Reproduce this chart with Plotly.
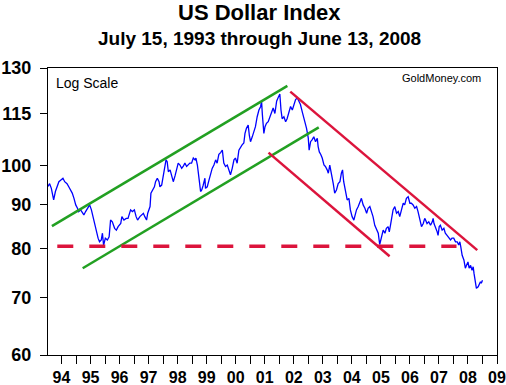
import math
import plotly.graph_objects as go

# ---- data (decimal year, index value) ----
dxy_years = [
    1993.535, 1993.56, 1993.59, 1993.65, 1993.73, 1993.79, 1993.85, 1993.91, 1993.97, 1994.05,
    1994.11, 1994.19, 1994.25, 1994.32, 1994.37, 1994.43, 1994.49, 1994.55, 1994.59, 1994.66,
    1994.72, 1994.77, 1994.83, 1994.91, 1994.97, 1995.03, 1995.08, 1995.14, 1995.20, 1995.26,
    1995.31, 1995.37, 1995.41, 1995.45, 1995.51, 1995.58, 1995.64, 1995.69, 1995.75, 1995.83,
    1995.89, 1995.95, 1996.04, 1996.08, 1996.15, 1996.23, 1996.29,
    1996.38, 1996.44, 1996.51, 1996.57, 1996.62, 1996.70, 1996.76, 1996.82, 1996.87, 1996.93,
    1996.97, 1997.01, 1997.05, 1997.08, 1997.14, 1997.20, 1997.24, 1997.30, 1997.36, 1997.39,
    1997.45, 1997.51, 1997.56, 1997.60, 1997.64, 1997.68, 1997.74, 1997.79, 1997.85, 1997.91,
    1997.97, 1998.02, 1998.08, 1998.14, 1998.19, 1998.25, 1998.31, 1998.37, 1998.42, 1998.48,
    1998.54, 1998.60, 1998.63, 1998.68, 1998.71, 1998.75, 1998.79, 1998.83, 1998.88, 1998.94,
    1998.96, 1999.02, 1999.08, 1999.13, 1999.19, 1999.25, 1999.31, 1999.36, 1999.42, 1999.48,
    1999.54, 1999.59, 1999.65, 1999.71, 1999.77, 1999.82, 1999.88, 1999.94, 1999.99, 2000.05,
    2000.11, 2000.17, 2000.22, 2000.28, 2000.32, 2000.37, 2000.43, 2000.47, 2000.51, 2000.57,
    2000.63, 2000.68, 2000.74, 2000.80, 2000.86, 2000.89, 2000.92, 2000.97, 2001.01, 2001.06,
    2001.12, 2001.18, 2001.23, 2001.29, 2001.35, 2001.41, 2001.46, 2001.52,
    2001.56, 2001.60, 2001.66, 2001.72, 2001.77, 2001.83, 2001.89, 2001.95, 2002.00, 2002.06,
    2002.12, 2002.18, 2002.23, 2002.29, 2002.35, 2002.38, 2002.44, 2002.50, 2002.53, 2002.58,
    2002.63, 2002.69, 2002.75, 2002.81, 2002.84, 2002.88, 2002.93, 2002.98, 2003.04, 2003.09,
    2003.15, 2003.19, 2003.24, 2003.30, 2003.36, 2003.41, 2003.47, 2003.53, 2003.59, 2003.64,
    2003.68, 2003.72, 2003.78, 2003.84, 2003.90, 2003.95, 2004.01, 2004.07, 2004.10,
    2004.16, 2004.22, 2004.28, 2004.33, 2004.39, 2004.45, 2004.51, 2004.56, 2004.62, 2004.68,
    2004.73, 2004.79, 2004.85, 2004.91, 2004.96, 2005.02, 2005.08, 2005.14, 2005.19, 2005.25,
    2005.29, 2005.33, 2005.39, 2005.42, 2005.48, 2005.54, 2005.60, 2005.65, 2005.71, 2005.77,
    2005.82, 2005.88, 2005.94, 2006.00, 2006.05, 2006.11, 2006.17, 2006.23, 2006.28, 2006.34,
    2006.40, 2006.46, 2006.51,
    2006.54, 2006.59, 2006.65, 2006.71, 2006.77, 2006.80, 2006.83, 2006.88, 2006.94, 2006.97,
    2007.01, 2007.05, 2007.11, 2007.17, 2007.22, 2007.28, 2007.34, 2007.40, 2007.45, 2007.51,
    2007.57, 2007.63, 2007.68, 2007.72, 2007.75, 2007.80, 2007.86, 2007.91, 2007.95, 2008.00,
    2008.04, 2008.09, 2008.14, 2008.18, 2008.21, 2008.26, 2008.29, 2008.35, 2008.38, 2008.43,
    2008.46, 2008.50,
]
dxy_values = [
    94.5, 94.8, 95.2, 94.0, 91.1, 93.2, 94.4, 95.7, 96.1, 96.6,
    95.7, 95.2, 94.4, 93.6, 92.8, 91.5, 89.9, 89.1, 88.3, 88.7,
    87.9, 87.5, 88.3, 89.1, 89.9, 88.7, 87.1, 85.9, 84.0, 82.2,
    81.4, 81.8, 83.3, 80.6, 82.2, 81.8, 82.5, 86.3, 85.9, 84.4,
    84.0, 84.8, 85.5, 87.1, 86.3, 86.7, 86.7,
    88.7, 88.3, 88.7, 87.1, 86.3, 87.1, 87.5, 87.9, 87.1, 86.3,
    87.9, 88.7, 89.5, 92.8, 93.6, 94.4, 95.7, 96.6, 95.7, 94.4,
    94.8, 97.2, 99.7, 101.5, 101.0, 98.3, 98.8, 97.2, 95.7, 97.2,
    99.2, 100.6, 100.1, 99.2, 99.7, 100.6, 99.7, 100.1, 100.6, 100.6,
    102.0, 101.5, 102.0, 100.1, 97.2, 95.7, 93.2, 93.6, 94.8, 96.6,
    94.0, 94.4, 96.1, 97.9, 99.2, 100.1, 101.5, 100.6, 103.0, 103.5,
    104.2, 100.6, 99.7, 100.1, 98.8, 97.5, 99.2, 101.5, 102.0, 100.6,
    104.2, 105.2, 105.7, 106.2, 109.0, 110.5, 111.5, 108.4, 106.6, 108.0,
    110.0, 111.0, 114.0, 116.1, 117.2, 118.9, 114.5, 109.0, 111.0, 112.0,
    112.5, 114.0, 115.6, 116.7, 115.0, 118.9, 120.0, 121.2,
    116.1, 113.4, 114.0, 112.5, 113.4, 115.6, 117.2, 116.1, 117.8, 119.3,
    120.0, 118.9, 117.8, 115.6, 114.0, 112.5, 110.5, 107.6, 104.2, 106.6,
    107.1, 108.0, 106.6, 107.6, 105.2, 103.7, 103.0, 102.0, 100.1, 99.7,
    98.8, 97.9, 100.1, 97.9, 95.2, 92.8, 93.6, 95.2, 95.7, 97.9,
    98.8, 95.7, 93.2, 91.1, 91.5, 88.7, 87.1, 86.3, 87.1,
    88.7, 89.5, 90.7, 91.5, 89.9, 89.1, 87.9, 89.1, 89.5, 88.3,
    87.1, 85.1, 84.0, 83.3, 80.8, 82.8, 84.0, 83.3, 84.4, 84.8,
    83.6, 85.1, 87.5, 88.7, 89.5, 87.9, 88.3, 87.1, 88.7, 90.3,
    89.9, 91.5, 91.9, 90.3, 90.3, 89.9, 89.1, 89.5, 88.3, 86.7,
    84.8, 85.5, 86.7,
    86.3, 85.5, 85.9, 85.1, 85.9, 86.7, 85.5, 84.8, 83.6, 82.8,
    84.8, 85.1, 84.0, 84.4, 83.3, 82.8, 82.2, 81.8, 82.2, 82.2,
    81.4, 81.4, 80.7, 81.4, 80.4, 78.5, 77.5, 75.8, 76.4, 77.1,
    75.8, 76.4, 75.4, 76.1, 74.7, 73.1, 71.8, 72.1, 72.4, 73.1,
    72.8, 73.4,
]

# trend channel end points (decimal year, index value)
green_upper_x = [1993.67, 2001.78]
green_upper_y = [84.9, 123.9]
green_lower_x = [1994.73, 2002.86]
green_lower_y = [75.8, 110.8]
red_upper_x = [2001.88, 2008.32]
red_upper_y = [122.0, 79.6]
red_lower_x = [2001.13, 2005.30]
red_lower_y = [103.5, 78.3]
support_x = [1993.855, 2007.605]
support_y = [80.4, 80.4]

# axis ticks
y_min, y_max = 60, 130
y_tick_values = [60, 70, 80, 90, 100, 115, 130]
y_tick_labels = ["60", "70", "80", "90", "100", "115", "130"]
x_start, x_end = 1993.535, 2009.0
x_label_years = list(range(1994, 2010))
x_tick_labels = ["94", "95", "96", "97", "98", "99", "00", "01",
                 "02", "03", "04", "05", "06", "07", "08", "09"]

x_tickvals, x_ticktext = [], []
for yr, lab in zip(x_label_years, x_tick_labels):
    x_tickvals.append(yr)
    x_ticktext.append(lab)
    if yr < x_label_years[-1]:
        x_tickvals.append(yr + 0.5)
        x_ticktext.append("")

GREEN = "#22A022"
RED = "#DC143C"
FONT = "Liberation Sans, Arial, sans-serif"

fig = go.Figure()
fig.add_trace(go.Scatter(x=dxy_years, y=dxy_values, mode="lines",
                         line=dict(color="#0000FF", width=1.3), hoverinfo="skip"))
fig.add_trace(go.Scatter(x=green_upper_x, y=green_upper_y, mode="lines",
                         line=dict(color=GREEN, width=2.5)))
fig.add_trace(go.Scatter(x=green_lower_x, y=green_lower_y, mode="lines",
                         line=dict(color=GREEN, width=2.5)))
fig.add_trace(go.Scatter(x=red_upper_x, y=red_upper_y, mode="lines",
                         line=dict(color=RED, width=2.5)))
fig.add_trace(go.Scatter(x=red_lower_x, y=red_lower_y, mode="lines",
                         line=dict(color=RED, width=2.5)))
fig.add_trace(go.Scatter(x=support_x, y=support_y, mode="lines",
                         line=dict(color=RED, width=3.5, dash="16px,16px")))

fig.update_layout(
    template="none",
    width=506, height=385,
    margin=dict(l=48, r=9, t=68, b=30, autoexpand=False),
    paper_bgcolor="white", plot_bgcolor="white",
    showlegend=False,
    font=dict(family=FONT, color="black"),
    xaxis=dict(
        range=[x_start, x_end], automargin=False,
        tickmode="array", tickvals=x_tickvals, ticktext=x_ticktext,
        ticks="outside", ticklen=8, tickwidth=1, tickcolor="black",
        showline=True, mirror=True, linecolor="black", linewidth=1,
        showgrid=False, zeroline=False,
        tickfont=dict(family=FONT, size=16, color="black", weight="bold"),
    ),
    yaxis=dict(
        type="log", automargin=False,
        range=[math.log10(y_min), math.log10(y_max)],
        tickmode="array", tickvals=y_tick_values, ticktext=y_tick_labels,
        ticks="outside", ticklen=7, tickwidth=1, tickcolor="black",
        showline=True, mirror=True, linecolor="black", linewidth=1,
        showgrid=False, zeroline=False,
        ticklabelstandoff=5,
        tickfont=dict(family=FONT, size=18, color="black", weight="bold"),
    ),
    annotations=[
        dict(text="<b>US Dollar Index</b>", xref="paper", yref="paper",
             x=0.472, y=1.194, xanchor="center", yanchor="middle", showarrow=False,
             font=dict(family=FONT, size=22, color="black")),
        dict(text="<b>July 15, 1993 through June 13, 2008</b>", xref="paper", yref="paper",
             x=0.472, y=1.103, xanchor="center", yanchor="middle", showarrow=False,
             font=dict(family=FONT, size=19, color="black")),
        dict(text="Log Scale", xref="paper", yref="paper",
             x=0.014, y=0.949, xanchor="left", yanchor="middle", showarrow=False,
             font=dict(family=FONT, size=14, color="black")),
        dict(text="GoldMoney.com", xref="paper", yref="paper",
             x=0.9695, y=0.964, xanchor="right", yanchor="middle", showarrow=False,
             font=dict(family=FONT, size=11, color="black")),
    ],
)

fig.write_html(
    "out.html",
    config={"displayModeBar": False},
    post_script="document.body.style.margin='0';document.body.style.padding='0';",
)
